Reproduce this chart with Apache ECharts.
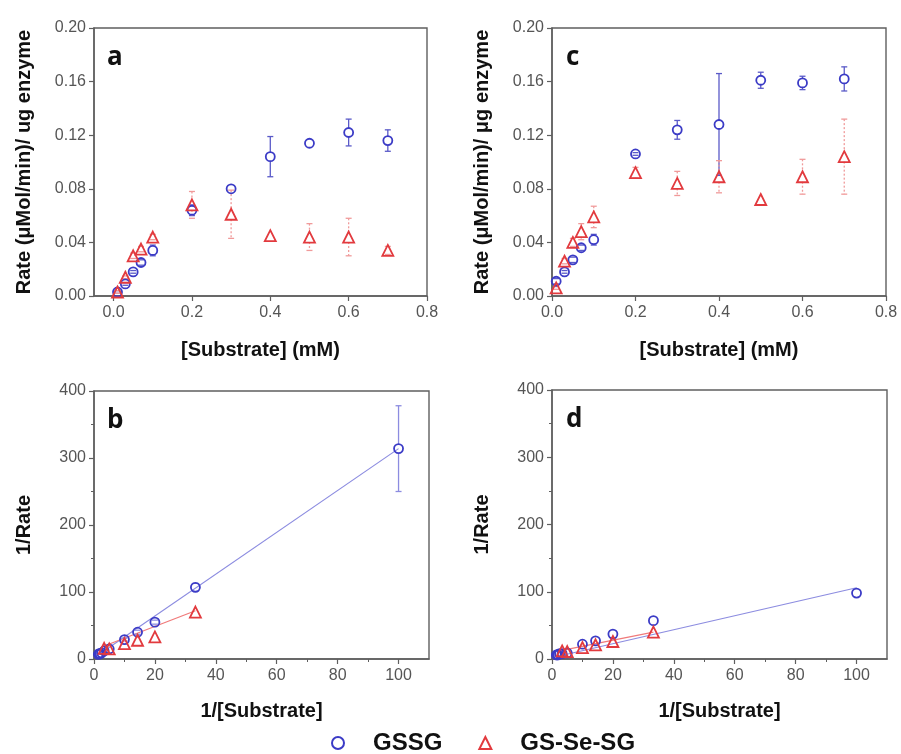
<!DOCTYPE html>
<html>
<head>
<meta charset="utf-8">
<script src="https://cdn.jsdelivr.net/npm/echarts@6/dist/echarts.min.js"></script>
<style>
html, body { margin: 0; padding: 0; background: #fff; }
#chart { width: 901px; height: 754px; }
</style>
</head>
<body>
<div id="chart"></div>
<script>
// Substrate concentrations (mM) used in the rate panels
const substrate = [0.01, 0.03, 0.05, 0.07, 0.1, 0.2, 0.3, 0.4, 0.5, 0.6, 0.7];

// Panel a: rate per ug enzyme
const rateA_GSSG = [0.003, 0.009, 0.018, 0.025, 0.034, 0.064, 0.080, 0.104, 0.114, 0.122, 0.116];
const errA_GSSG  = [0.001, 0.001, 0.001, 0.002, 0.004, 0.004, 0.000, 0.015, 0.000, 0.010, 0.008];
const rateA_Se   = [0.003, 0.014, 0.030, 0.035, 0.044, 0.068, 0.061, 0.045, 0.044, 0.044, 0.034];
const errA_Se    = [0.001, 0.001, 0.002, 0.002, 0.002, 0.010, 0.018, 0.000, 0.010, 0.014, 0.003];

// Panel c: rate per ug enzyme
const rateC_GSSG = [0.011, 0.018, 0.027, 0.036, 0.042, 0.106, 0.124, 0.128, 0.161, 0.159, 0.162];
const errC_GSSG  = [0.002, 0.001, 0.002, 0.002, 0.004, 0.001, 0.007, 0.038, 0.006, 0.005, 0.009];
const rateC_Se   = [0.006, 0.026, 0.040, 0.048, 0.059, 0.092, 0.084, 0.089, 0.072, 0.089, 0.104];
const errC_Se    = [0.001, 0.002, 0.003, 0.006, 0.008, 0.004, 0.009, 0.012, 0.000, 0.013, 0.028];

// Panel b: double-reciprocal plot
const invSubB_GSSG  = [1.43, 1.67, 2, 2.5, 3.33, 5, 10, 14.3, 20, 33.3, 100];
const invRateB_GSSG = [7, 8, 8, 9, 12, 15, 29, 40, 55, 107, 314];
const errB_GSSG     = [0, 0, 0, 0, 0, 0, 2, 3, 3, 6, 64];
const invSubB_Se    = [3.33, 5, 10, 14.3, 20, 33.3];
const invRateB_Se   = [16, 15, 23, 28, 33, 70];
const fitB_GSSG_x = [1.0, 100];
const fitB_GSSG_y = [5, 314];
const fitB_Se_x   = [2.5, 33.3];
const fitB_Se_y   = [18, 72];

// Panel d: double-reciprocal plot
const invSubD_GSSG  = [1.43, 1.67, 2, 2.5, 3.33, 5, 10, 14.3, 20, 33.3, 100];
const invRateD_GSSG = [6, 6, 6, 8, 8, 9, 22, 27, 37, 57, 98];
const invSubD_Se    = [3.33, 5, 10, 14.3, 20, 33.3];
const invRateD_Se   = [12, 11, 17, 21, 26, 40];
const fitD_GSSG_x = [1.0, 100];
const fitD_GSSG_y = [3, 106];
const fitD_Se_x   = [2.5, 33.3];
const fitD_Se_y   = [12, 40];

// Tick labels
const rateTicksX = [0, 0.2, 0.4, 0.6, 0.8];
const invTicksX  = [0, 20, 40, 60, 80, 100];
const invMinorX  = [10, 30, 50, 70, 90];

const BLUE = '#3b3bc6';
const RED = '#e23a3e';
const BLUE_ERR = '#5a5ac8';
const RED_ERR = '#f09a9a';
const BLUE_FIT = '#8c8ce0';
const RED_FIT = '#f07a7a';
const AXIS = '#5f5f5f';
const FONT = '"Liberation Sans", Arial, sans-serif';

const grids = [
  { left: 94,  top: 28,  width: 333, height: 268 },  // a
  { left: 552, top: 28,  width: 334, height: 268 },  // c
  { left: 94,  top: 391, width: 335, height: 268 },  // b
  { left: 552, top: 390, width: 335, height: 269 }   // d
].map(g => Object.assign({ show: true, borderColor: AXIS, borderWidth: 1.4, backgroundColor: 'transparent' }, g));

const zip = (xs, ys, es) => xs.map((x, i) => es ? [x, ys[i], es[i]] : [x, ys[i]]);

const axisLineStyle = { show: true, onZero: false, lineStyle: { color: AXIS, width: 1.5 } };
const labelStyle = { color: '#555', fontSize: 16, fontFamily: FONT };
const nameStyle = { color: '#111', fontSize: 20, fontWeight: 'bold', fontFamily: FONT };

function rateX(gridIndex, min) {
  return {
    type: 'value', gridIndex, min, max: 0.8,
    axisLine: axisLineStyle,
    axisTick: { show: true, inside: false, length: 5, lineStyle: { color: AXIS, width: 1.2 }, customValues: rateTicksX },
    axisLabel: Object.assign({ customValues: rateTicksX, margin: 9, formatter: v => v.toFixed(1) }, labelStyle),
    splitLine: { show: false },
    name: '[Substrate] (mM)', nameLocation: 'middle', nameGap: 44, nameTextStyle: nameStyle
  };
}
function rateY(gridIndex, title) {
  return {
    type: 'value', gridIndex, min: 0, max: 0.2, interval: 0.04,
    axisLine: axisLineStyle,
    axisTick: { show: true, inside: false, length: 5, lineStyle: { color: AXIS, width: 1.2 } },
    axisLabel: Object.assign({ margin: 8, formatter: v => v.toFixed(2) }, labelStyle),
    splitLine: { show: false },
    name: title, nameLocation: 'middle', nameGap: 60, nameTextStyle: nameStyle
  };
}
function invX(gridIndex) {
  return {
    type: 'value', gridIndex, min: 0, max: 110,
    axisLine: axisLineStyle,
    axisTick: { show: true, inside: false, length: 5, lineStyle: { color: AXIS, width: 1.2 }, customValues: invTicksX },
    axisLabel: Object.assign({ customValues: invTicksX, margin: 9 }, labelStyle),
    splitLine: { show: false },
    name: '1/[Substrate]', nameLocation: 'middle', nameGap: 42, nameTextStyle: nameStyle
  };
}
function invXMinor(gridIndex) {
  return {
    type: 'value', gridIndex, min: 0, max: 110, position: 'bottom',
    axisLine: { show: false, onZero: false },
    axisTick: { show: true, inside: false, length: 3, lineStyle: { color: AXIS, width: 1 }, customValues: invMinorX },
    axisLabel: { show: false },
    splitLine: { show: false }
  };
}
function invY(gridIndex) {
  return {
    type: 'value', gridIndex, min: 0, max: 400, interval: 100,
    axisLine: axisLineStyle,
    axisTick: { show: true, inside: false, length: 5, lineStyle: { color: AXIS, width: 1.2 } },
    minorTick: { show: true, splitNumber: 2, length: 3, lineStyle: { color: AXIS, width: 1 } },
    axisLabel: Object.assign({ margin: 8 }, labelStyle),
    splitLine: { show: false },
    name: '1/Rate', nameLocation: 'middle', nameGap: 60, nameTextStyle: nameStyle
  };
}

// Vertical error bars with caps; the bar is split around the marker
function errorBars(name, axisIdx, data, color, dashed, gapR) {
  return {
    type: 'custom', name, xAxisIndex: axisIdx, yAxisIndex: axisIdx, z: 3,
    data, encode: { x: 0, y: 1 }, silent: true,
    renderItem(params, api) {
      const x = api.value(0), y = api.value(1), e = api.value(2);
      if (!e) return null;
      const c = api.coord([x, y]);
      const top = api.coord([x, y + e]);
      const bot = api.coord([x, y - e]);
      const style = { stroke: color, lineWidth: 1.3, lineDash: dashed ? [2, 2] : null };
      const cap = 3;
      const parts = [];
      if (c[1] - gapR > top[1]) parts.push({ type: 'line', shape: { x1: c[0], y1: top[1], x2: c[0], y2: c[1] - gapR }, style });
      if (c[1] + gapR < bot[1]) parts.push({ type: 'line', shape: { x1: c[0], y1: c[1] + gapR, x2: c[0], y2: bot[1] }, style });
      parts.push({ type: 'line', shape: { x1: c[0] - cap, y1: top[1], x2: c[0] + cap, y2: top[1] }, style: { stroke: color, lineWidth: 1.3 } });
      parts.push({ type: 'line', shape: { x1: c[0] - cap, y1: bot[1], x2: c[0] + cap, y2: bot[1] }, style: { stroke: color, lineWidth: 1.3 } });
      return { type: 'group', children: parts };
    }
  };
}
function marks(name, axisIdx, data, symbol, color, z) {
  return {
    type: 'scatter', name, xAxisIndex: axisIdx, yAxisIndex: axisIdx, z,
    data, symbol, symbolSize: symbol === 'circle' ? 9 : 11,
    itemStyle: { color: 'rgba(255,255,255,0)', borderColor: color, borderWidth: 1.8, opacity: 1 },
    emphasis: { disabled: true }
  };
}
function fitLine(name, axisIdx, xs, ys, color) {
  return {
    type: 'line', name, xAxisIndex: axisIdx, yAxisIndex: axisIdx, z: 2,
    data: zip(xs, ys), symbol: 'none', lineStyle: { color, width: 1.2 }, silent: true
  };
}

const LETTER = 'bold 26px "Open Sans", sans-serif';

const option = {
  animation: false,
  backgroundColor: '#fff',
  grid: grids,
  xAxis: [rateX(0, -0.05), rateX(1, 0), invX(2), invX(3), invXMinor(2), invXMinor(3)],
  yAxis: [rateY(0, 'Rate (\u03bcMol/min)/ ug enzyme'), rateY(1, 'Rate (\u03bcMol/min)/ \u03bcg enzyme'), invY(2), invY(3)],
  legend: {
    left: 326, top: 726,
    itemWidth: 12, itemHeight: 12, itemGap: 36,
    textStyle: { color: '#111', fontSize: 24, fontWeight: 'bold', fontFamily: FONT, padding: [0, 0, 0, 24] },
    data: [{ name: 'GSSG', icon: 'circle' }, { name: 'GS-Se-SG', icon: 'triangle' }],
    selectedMode: false
  },
  graphic: [
    { type: 'text', left: 107, top: 45, style: { text: 'a', font: LETTER, fill: '#111' } },
    { type: 'text', left: 566, top: 45, style: { text: 'c', font: LETTER, fill: '#111' } },
    { type: 'text', left: 107, top: 408, style: { text: 'b', font: LETTER, fill: '#111' } },
    { type: 'text', left: 566, top: 407, style: { text: 'd', font: LETTER, fill: '#111' } }
  ],
  series: [
    // a
    errorBars('GSSG err a', 0, zip(substrate, rateA_GSSG, errA_GSSG), BLUE_ERR, false, 4.5),
    errorBars('GS-Se-SG err a', 0, zip(substrate, rateA_Se, errA_Se), RED_ERR, true, 5),
    marks('GSSG', 0, zip(substrate, rateA_GSSG), 'circle', BLUE, 4),
    marks('GS-Se-SG', 0, zip(substrate, rateA_Se), 'triangle', RED, 5),
    // c
    errorBars('GSSG err c', 1, zip(substrate, rateC_GSSG, errC_GSSG), BLUE_ERR, false, 4.5),
    errorBars('GS-Se-SG err c', 1, zip(substrate, rateC_Se, errC_Se), RED_ERR, true, 5),
    marks('GSSG', 1, zip(substrate, rateC_GSSG), 'circle', BLUE, 4),
    marks('GS-Se-SG', 1, zip(substrate, rateC_Se), 'triangle', RED, 5),
    // b
    fitLine('GSSG fit b', 2, fitB_GSSG_x, fitB_GSSG_y, BLUE_FIT),
    fitLine('GS-Se-SG fit b', 2, fitB_Se_x, fitB_Se_y, RED_FIT),
    errorBars('GSSG err b', 2, zip(invSubB_GSSG, invRateB_GSSG, errB_GSSG), BLUE_FIT, false, 4.5),
    marks('GSSG', 2, zip(invSubB_GSSG, invRateB_GSSG), 'circle', BLUE, 4),
    marks('GS-Se-SG', 2, zip(invSubB_Se, invRateB_Se), 'triangle', RED, 5),
    // d
    fitLine('GSSG fit d', 3, fitD_GSSG_x, fitD_GSSG_y, BLUE_FIT),
    fitLine('GS-Se-SG fit d', 3, fitD_Se_x, fitD_Se_y, RED_FIT),
    marks('GSSG', 3, zip(invSubD_GSSG, invRateD_GSSG), 'circle', BLUE, 4),
    marks('GS-Se-SG', 3, zip(invSubD_Se, invRateD_Se), 'triangle', RED, 5)
  ]
};

const chart = echarts.init(document.getElementById('chart'), null, { renderer: 'canvas' });
chart.setOption(option);
</script>
</body>
</html>
